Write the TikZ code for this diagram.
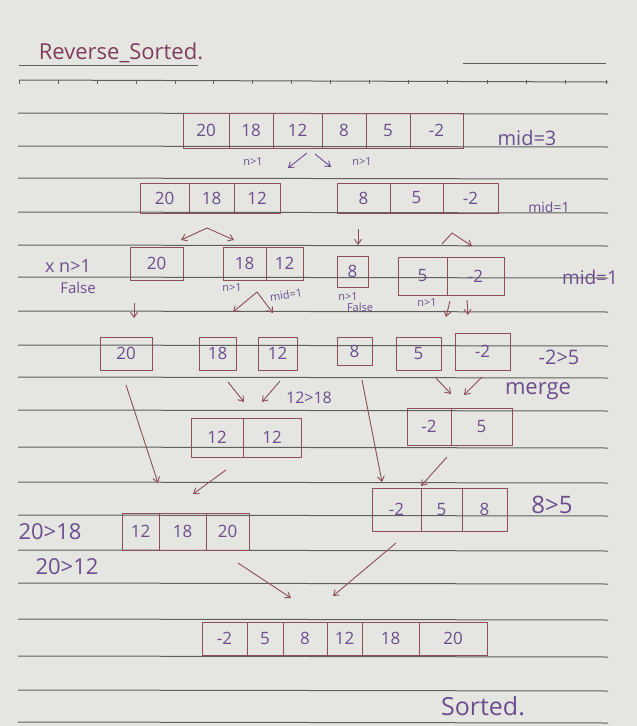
\documentclass[tikz,border=0pt]{standalone}
\usepackage{fontspec}
\setmainfont{Open Sans}
\usetikzlibrary{arrows.meta}
\definecolor{paper}{RGB}{229,230,225}
\definecolor{rulec}{RGB}{95,95,95}
\definecolor{ink}{RGB}{140,78,88}
\definecolor{pen}{RGB}{108,78,142}
\definecolor{titlec}{RGB}{128,60,92}
\newcommand{\mycell}[6]{\node[cell,minimum width=#4pt,minimum height=#5pt] (#1) at (#2,#3) {#6};}
\begin{document}
\begin{tikzpicture}[x=1pt,y=-1pt,
  cell/.style={draw=ink, line width=0.9pt, inner sep=0pt, text=pen, font=\fontsize{17}{17}\selectfont},
  note/.style={text=pen, inner sep=0pt, font=\fontsize{15}{15}\selectfont},
  small/.style={text=pen, inner sep=0pt, font=\fontsize{11}{11}\selectfont},
  arr/.style={draw=ink, line width=0.9pt, -{Straight Barb[length=5pt,width=7pt]}},
  parr/.style={arr, draw=pen},
  ruleline/.style={draw=rulec, line width=1pt}]
\useasboundingbox (0,0) rectangle (637,726);
\fill[paper] (0,0) rectangle (637,726);
% paper lines
\draw[ruleline] (19,65) -- (198,65);
\draw[ruleline] (463,63) -- (606,63);
\draw[ruleline] (19,80) -- (608,82);
\foreach \x in {19,58,97,136,175,213,252,291,330,369,408,447,487,526,565,606}
  \draw[ruleline] (\x,80) -- (\x,84);
\foreach \y in {113,146,178,212,245,277,311,345,377,410,447,482,515,550,583,619,656,690,722}
  \draw[ruleline] (18,\y) -- (608,\y+1);
% title
\node[text=titlec, inner sep=0pt, font=\fontsize{22}{22}\selectfont] (title) at (121,53) {Reverse\_Sorted.};
% row 1
\begin{scope}[every node/.append style={font=\fontsize{19}{19}\selectfont}]
\mycell{r1a}{206}{130.5}{46}{35}{20}
\mycell{r1b}{251}{130.5}{44}{35}{18}
\mycell{r1c}{297.5}{130.5}{49}{35}{12}
\mycell{r1d}{344}{130.5}{44}{35}{8}
\mycell{r1e}{388}{130.5}{44}{35}{5}
\mycell{r1f}{436.5}{130.5}{53}{35}{-2}
\end{scope}
\node[note, font=\fontsize{20}{20}\selectfont] (mid3) at (527,138) {mid=3};
\node[small] (n1a) at (253,162) {n>1};
\node[small] (n1b) at (362,162) {n>1};
\coordinate (a1s) at (307,153); \coordinate (a1e) at (288,168);
\coordinate (a2s) at (315,154); \coordinate (a2e) at (331,167);
\draw[parr] (a1s) -- (a1e);
\draw[parr] (a2s) -- (a2e);
% row 2
\begin{scope}[every node/.append style={font=\fontsize{18}{18}\selectfont}]
\mycell{r2a}{164.5}{198}{49}{30}{20}
\mycell{r2b}{211.5}{198}{45}{30}{18}
\mycell{r2c}{257}{198}{46}{30}{12}
\mycell{r2d}{363.5}{198}{53}{30}{8}
\mycell{r2e}{416.5}{198}{53}{30}{5}
\mycell{r2f}{470.5}{198}{55}{30}{-2}
\end{scope}
\node[note, font=\fontsize{14}{14}\selectfont] (mid1a) at (549,207) {mid=1};
\coordinate (c1) at (207,228); \coordinate (c1l) at (181,240); \coordinate (c1r) at (234,240);
\draw[arr] (c1) -- (c1l);
\draw[arr] (c1) -- (c1r);
\coordinate (d1s) at (358,229); \coordinate (d1e) at (358,245);
\draw[arr] (d1s) -- (d1e);
\coordinate (c2) at (452,233); \coordinate (c2l) at (442,244); \coordinate (c2r) at (472,246);
\draw[ink, line width=0.9pt] (c2l) -- (c2);
\draw[arr] (c2) -- (c2r);
% row 3
\mycell{r3a}{156.5}{263.5}{53}{33}{20}
\mycell{r3b}{244.5}{263.5}{43}{33}{18}
\mycell{r3c}{284.5}{263.5}{37}{33}{12}
\mycell{r3d}{352.5}{271.5}{31}{31}{8}
\mycell{r3e}{422.5}{276}{49}{38}{5}
\mycell{r3f}{475.5}{276}{57}{38}{-2}
\node[note, font=\fontsize{18}{18}\selectfont] (xn) at (68,266) {x n>1};
\node[note, font=\fontsize{15}{15}\selectfont] (fa) at (78,288) {False};
\node[note, font=\fontsize{19}{19}\selectfont] (mid1b) at (590,277) {mid=1};
\coordinate (d2s) at (134,303); \coordinate (d2e) at (134,318);
\draw[arr] (d2s) -- (d2e);
\node[small] (n3a) at (232,288) {n>1};
\coordinate (c3) at (257,292); \coordinate (c3l) at (233,312); \coordinate (c3r) at (273,313);
\draw[arr] (c3) -- (c3l);
\draw[arr] (c3) -- (c3r);
\node[small, rotate=8] (mid1c) at (286,295) {mid=1};
\node[small] (n3b) at (348,297) {n>1};
\node[small] (fb) at (360,307) {False};
\node[small] (n3c) at (427,303) {n>1};
\coordinate (d3s) at (450,301); \coordinate (d3e) at (446,317);
\coordinate (d4s) at (467,300); \coordinate (d4e) at (468,315);
\draw[arr] (d3s) -- (d3e);
\draw[arr] (d4s) -- (d4e);
% row 4
\begin{scope}[every node/.append style={font=\fontsize{15}{15}\selectfont}]
\mycell{r4a}{126}{353.5}{52}{33}{20}
\mycell{r4b}{217.5}{353.5}{37}{33}{18}
\mycell{r4c}{277.5}{353.5}{39}{33}{12}
\mycell{r4d}{354.5}{351}{35}{28}{8}
\mycell{r4e}{418.5}{353.5}{45}{33}{5}
\mycell{r4f}{482.5}{351.5}{55}{37}{-2}
\end{scope}
\node[note, font=\fontsize{20}{20}\selectfont] (cmp1) at (559,357) {-2>5};
\coordinate (l1s) at (126,385); \coordinate (l1e) at (158,483);
\draw[arr] (l1s) -- (l1e);
\coordinate (m1s) at (228,382); \coordinate (m1e) at (244,402);
\coordinate (m2s) at (280,381); \coordinate (m2e) at (262,402);
\draw[arr] (m1s) -- (m1e);
\draw[arr] (m2s) -- (m2e);
\node[note, font=\fontsize{16}{16}\selectfont] (cmp2) at (309,398) {12>18};
\coordinate (l2s) at (362,380); \coordinate (l2e) at (382,482);
\draw[arr] (l2s) -- (l2e);
\coordinate (m3s) at (435,377); \coordinate (m3e) at (451,394);
\coordinate (m4s) at (482,377); \coordinate (m4e) at (464,395);
\draw[arr] (m3s) -- (m3e);
\draw[arr] (m4s) -- (m4e);
\node[note, font=\fontsize{22}{22}\selectfont] (merge) at (538,391) {merge};
% row 5
\begin{scope}[every node/.append style={font=\fontsize{17}{17}\selectfont}]
\mycell{r5a}{217}{437.5}{52}{39}{12}
\mycell{r5b}{272}{437.5}{58}{39}{12}
\mycell{r5c}{429}{426.5}{44}{37}{-2}
\mycell{r5d}{481.5}{426.5}{61}{37}{5}
\end{scope}
\coordinate (p1s) at (226,470); \coordinate (p1e) at (193,494);
\draw[arr] (p1s) -- (p1e);
\coordinate (p2s) at (447,457); \coordinate (p2e) at (421,486);
\draw[arr] (p2s) -- (p2e);
% row 6
\begin{scope}[every node/.append style={font=\fontsize{18}{18}\selectfont}]
\mycell{r6a}{396.5}{509.5}{49}{43}{-2}
\mycell{r6b}{441.5}{509.5}{41}{43}{5}
\mycell{r6c}{484.5}{509.5}{45}{43}{8}
\mycell{r6d}{140.5}{531.5}{37}{37}{12}
\mycell{r6e}{182.5}{531.5}{47}{37}{18}
\mycell{r6f}{227.5}{531.5}{43}{37}{20}
\end{scope}
\node[note, font=\fontsize{24}{24}\selectfont] (cmp3) at (552,505) {8>5};
\node[note, font=\fontsize{22}{22}\selectfont] (cmp4) at (50,532) {20>18};
\node[note, font=\fontsize{22}{22}\selectfont] (cmp5) at (67,567) {20>12};
\coordinate (q1s) at (238,563); \coordinate (q1e) at (291,598);
\draw[arr] (q1s) -- (q1e);
\coordinate (q2s) at (396,543); \coordinate (q2e) at (333,596);
\draw[arr] (q2s) -- (q2e);
% row 7
\begin{scope}[every node/.append style={font=\fontsize{17}{17}\selectfont}]
\mycell{r7a}{224.5}{638.5}{45}{33}{-2}
\mycell{r7b}{265}{638.5}{36}{33}{5}
\mycell{r7c}{305}{638.5}{44}{33}{8}
\mycell{r7d}{344.5}{638.5}{35}{33}{12}
\mycell{r7e}{390.5}{638.5}{57}{33}{18}
\mycell{r7f}{453}{638.5}{68}{33}{20}
\end{scope}
\node[text=pen, inner sep=0pt, font=\fontsize{25}{25}\selectfont] (sorted) at (483,706) {Sorted.};
\end{tikzpicture}
\end{document}
